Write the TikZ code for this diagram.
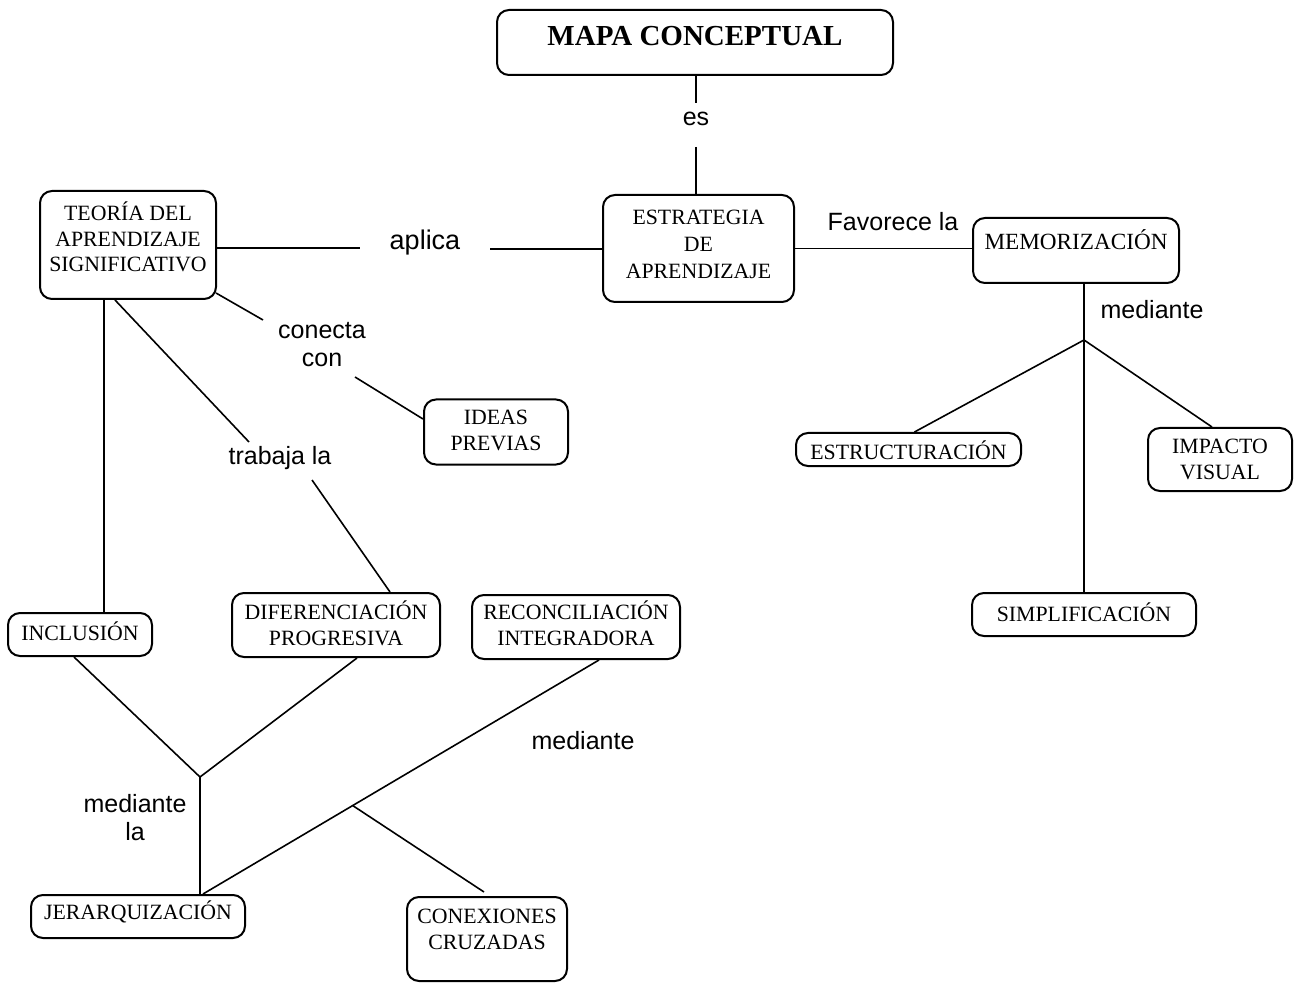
\documentclass[tikz,border=0pt]{standalone}
\usepackage{fontspec}
\setmainfont{Liberation Serif}
\newfontfamily\labfont{Liberation Sans}
\usetikzlibrary{calc}
\begin{document}
\begin{tikzpicture}[x=0.5pt,y=-0.5pt,
  box/.style={draw, line width=1pt, rounded corners=6pt, inner sep=0pt},
  boxtext/.style={font=\fontsize{10.9}{13}\selectfont, align=center, inner sep=0pt},
  lbl/.style={font=\labfont\fontsize{12.5}{14}\selectfont, align=center, inner sep=0pt},
  conn/.style={line width=0.8pt}]
\useasboundingbox (0,0) rectangle (1299,983);
\fill[white] (0,0) rectangle (1299,983);

% boxes
\node[box, minimum width=198pt, minimum height=32.5pt] (mapa) at (695,42.5) {};
\node[boxtext, font=\bfseries\fontsize{14.5}{17}\selectfont] (mapat) at (695,36) {MAPA CONCEPTUAL};

\node[box, minimum width=95.5pt, minimum height=53.5pt] (estr) at (698.5,248.5) {};
\node[boxtext, font=\fontsize{10.9}{13.6}\selectfont] (estrt) at (698.5,244.5) {ESTRATEGIA\\DE\\APRENDIZAJE};

\node[box, minimum width=88pt, minimum height=54pt] (teoria) at (128,245) {};
\node[boxtext, font=\fontsize{10.9}{12.6}\selectfont] (teoriat) at (128,237) {TEORÍA DEL\\APRENDIZAJE\\SIGNIFICATIVO};

\node[box, minimum width=103pt, minimum height=32.5pt] (memo) at (1076,250.5) {};
\node[boxtext, font=\fontsize{11.6}{13}\selectfont] (memot) at (1076,240) {MEMORIZACIÓN};

\node[box, minimum width=72pt, minimum height=32.5pt] (ideas) at (496,432) {};
\node[boxtext] (ideast) at (496,430) {IDEAS\\PREVIAS};

\node[box, minimum width=112.5pt, minimum height=16.5pt] (estruc) at (908.5,449.5) {};
\node[boxtext] (estruct) at (908.5,450) {ESTRUCTURACIÓN};

\node[box, minimum width=72pt, minimum height=31.5pt] (impacto) at (1220,459.5) {};
\node[boxtext] (impactot) at (1220,459) {IMPACTO\\VISUAL};

\node[box, minimum width=112pt, minimum height=21.5pt] (simpl) at (1084,614.5) {};
\node[boxtext] (simplt) at (1084,612) {SIMPLIFICACIÓN};

\node[box, minimum width=72pt, minimum height=21.5pt] (incl) at (80,634.5) {};
\node[boxtext] (inclt) at (80,631) {INCLUSIÓN};

\node[box, minimum width=104pt, minimum height=32pt] (dif) at (336,625) {};
\node[boxtext] (dift) at (336,623) {DIFERENCIACIÓN\\PROGRESIVA};

\node[box, minimum width=104pt, minimum height=32pt] (rec) at (576,627) {};
\node[boxtext] (rect) at (576,623) {RECONCILIACIÓN\\INTEGRADORA};

\node[box, minimum width=107pt, minimum height=21.5pt] (jer) at (138,916.5) {};
\node[boxtext] (jert) at (138,912) {JERARQUIZACIÓN};

\node[box, minimum width=80pt, minimum height=42pt] (conex) at (487,939) {};
\node[boxtext] (conext) at (487,929) {CONEXIONES\\CRUZADAS};

% labels
\node[lbl] (es) at (696,119) {es};
\node[lbl, font=\labfont\fontsize{13.5}{15}\selectfont] (aplica) at (425,243) {aplica};
\node[lbl] (favorece) at (893,222) {Favorece la};
\node[lbl] (med1) at (1152,310) {mediante};
\node[lbl] (conecta) at (322,345) {conecta\\con};
\node[lbl] (trabaja) at (280,458) {trabaja la};
\node[lbl] (med2) at (583,741) {mediante};
\node[lbl] (medla) at (135,818) {mediante\\la};

% coordinates for free ends
\coordinate (esA) at (696,103);
\coordinate (esB) at (696,147);
\coordinate (aplA) at (360,248);
\coordinate (aplB) at (490,249);
\coordinate (jm) at (1084,340);
\coordinate (conA) at (263,320);
\coordinate (conB) at (355,377);
\coordinate (trA) at (249,442);
\coordinate (trB) at (312,480);
\coordinate (jx) at (200,777);

% connectors
\draw[conn] (mapa.south -| esA) -- (esA);
\draw[conn] (esB) -- (esB |- estr.north);
\draw[conn] (teoria.east |- aplA) -- (aplA);
\draw[conn] (aplB) -- (aplB -| estr.west);
\draw[conn] (estr.east) -- (memo.west |- estr.east);

\draw[conn] (jm |- memo.south) -- (jm);
\draw[conn] (jm) -- ($(estruc.north)+(6,0)$);
\draw[conn] (jm) -- ($(impacto.north)+(-8,0)$);
\draw[conn] (jm) -- (jm |- simpl.north);

\draw[conn] ($(teoria.south east)+(-1,-7)$) -- (conA);
\draw[conn] (conB) -- ($(ideas.west)+(0,-13)$);

\draw[conn] ($(teoria.south)+(-24,0)$) -- ($(incl.north)+(24,0)$);
\draw[conn] ($(teoria.south)+(-13,0)$) -- (trA);
\draw[conn] (trB) -- ($(dif.north)+(54,0)$);

\draw[conn] ($(incl.south)+(-6,0)$) -- (jx);
\draw[conn] ($(dif.south)+(21,0)$) -- (jx);
\draw[conn] (jx) -- (jx |- jer.north);

\coordinate (recS) at ($(rec.south)+(23,0)$);
\coordinate (jerN) at ($(jer.north)+(65,0)$);
\draw[conn] (recS) -- (jerN);
\coordinate (jc) at ($(recS)!0.622!(jerN)$);
\draw[conn] (jc) -- ($(conex.north)+(-3,-4)$);
\end{tikzpicture}
\end{document}
